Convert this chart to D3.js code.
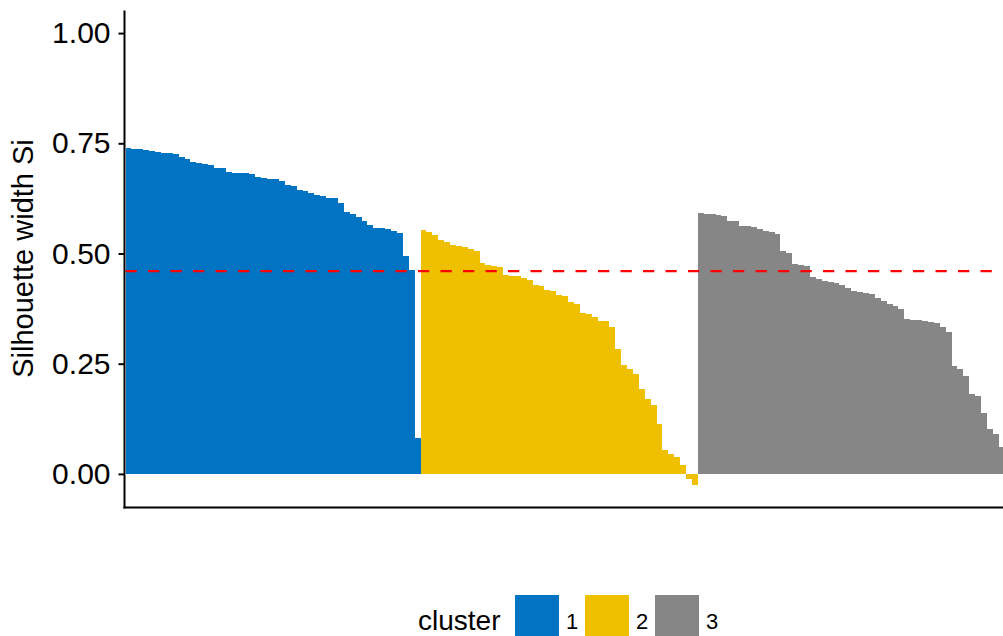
<!DOCTYPE html>
<html>
<head>
<meta charset="utf-8">
<script src="https://cdn.jsdelivr.net/npm/d3@7"></script>
<style>
  html, body { margin: 0; padding: 0; background: #fff; }
  svg { display: block; font-family: "Liberation Sans", Arimo, Arial, Helvetica, sans-serif; }
</style>
</head>
<body>
<svg id="chart" width="1003" height="636"></svg>
<script>
// ---- data (silhouette widths, sorted within each cluster) ----
const clusterLabels = ["1", "2", "3"];
const clusterColors = ["#0073C2", "#EFC000", "#868686"];
const cluster1Sil = [0.739,0.738,0.736,0.734,0.733,0.730,0.729,0.727,0.726,0.720,
  0.715,0.708,0.706,0.704,0.701,0.695,0.694,0.684,0.683,0.683,
  0.682,0.681,0.673,0.671,0.670,0.668,0.665,0.655,0.654,0.643,
  0.642,0.637,0.633,0.630,0.626,0.625,0.615,0.594,0.590,0.583,
  0.573,0.565,0.558,0.557,0.555,0.550,0.547,0.494,0.463,0.082];
const cluster2Sil = [0.553,0.548,0.543,0.531,0.526,0.519,0.516,0.514,0.510,0.506,
  0.478,0.475,0.472,0.469,0.451,0.450,0.448,0.444,0.440,0.429,
  0.427,0.417,0.414,0.405,0.404,0.391,0.385,0.364,0.362,0.355,
  0.347,0.346,0.334,0.283,0.247,0.237,0.226,0.193,0.171,0.156,
  0.113,0.055,0.045,0.039,0.020,-0.012,-0.025];
const cluster3Sil = [0.592,0.590,0.589,0.587,0.585,0.574,0.573,0.563,0.562,0.559,
  0.555,0.550,0.549,0.544,0.506,0.500,0.476,0.475,0.472,0.446,
  0.443,0.438,0.435,0.432,0.428,0.421,0.416,0.413,0.410,0.408,
  0.398,0.393,0.386,0.381,0.373,0.351,0.349,0.348,0.347,0.345,
  0.343,0.334,0.323,0.245,0.237,0.222,0.181,0.177,0.138,0.101,
  0.091,0.062,0.040];
const avgSilWidth = 0.46;
const yTicks = [0, 0.25, 0.5, 0.75, 1];
const yTitle = "Silhouette width Si";
const legendTitle = "cluster";

// ---- build rows ----
const rows = [];
[cluster1Sil, cluster2Sil, cluster3Sil].forEach((arr, ci) => {
  arr.forEach((v, i) => rows.push({ id: `c${ci}_${i}`, cluster: clusterLabels[ci], value: v }));
});

const svg = d3.select("#chart");
const unit = 5.9;
const x0 = 125.5;
const panelTop = 10.5, panelBottom = 507.5;

const x = d3.scaleBand()
  .domain(rows.map(d => d.id))
  .range([x0, x0 + rows.length * unit])
  .padding(0);

const yMin = Math.min(0, d3.min(rows, d => d.value));
const yMax = 1;
const pad = (yMax - yMin) * 0.05;
const y = d3.scaleLinear().domain([yMin - pad, yMax + pad]).range([panelBottom, panelTop]);

const color = d3.scaleOrdinal().domain(clusterLabels).range(clusterColors);

// bars
svg.append("g")
  .selectAll("rect")
  .data(rows)
  .join("rect")
  .attr("x", d => x(d.id))
  .attr("width", x.bandwidth())
  .attr("y", d => y(Math.max(0, d.value)))
  .attr("height", d => Math.abs(y(d.value) - y(0)))
  .attr("fill", d => color(d.cluster))
  .attr("shape-rendering", "crispEdges");

// average line
svg.append("line")
  .attr("x1", x0).attr("x2", 1010)
  .attr("y1", y(avgSilWidth)).attr("y2", y(avgSilWidth))
  .attr("stroke", "#FF0000")
  .attr("stroke-width", 2.2)
  .attr("stroke-dasharray", "11.25,11.25");

// y axis
const yAxis = d3.axisLeft(y).tickValues(yTicks).tickFormat(d3.format(".2f")).tickSize(6).tickPadding(8);
const gy = svg.append("g").attr("transform", `translate(124.5,0)`).call(yAxis);
gy.select(".domain").remove();
gy.append("line").attr("x1", 0).attr("x2", 0).attr("y1", panelTop).attr("y2", panelBottom + 1)
  .attr("stroke", "#000").attr("stroke-width", 2);
gy.selectAll(".tick line").attr("stroke", "#000").attr("stroke-width", 2);
gy.selectAll(".tick text").attr("fill", "#000").style("font-size", "30px")
  .attr("font-family", "'Liberation Sans', Arimo, Arial, sans-serif");

// x axis line (no ticks/labels)
svg.append("line")
  .attr("x1", 123.5).attr("x2", 1010)
  .attr("y1", panelBottom).attr("y2", panelBottom)
  .attr("stroke", "#000").attr("stroke-width", 2);

// y title
svg.append("text")
  .attr("transform", `translate(33,258.5) rotate(-90)`)
  .attr("text-anchor", "middle")
  .style("font-size", "29px")
  .attr("fill", "#000")
  .text(yTitle);

// legend
const lg = svg.append("g");
lg.append("text").attr("x", 418).attr("y", 630).style("font-size", "28px").attr("fill", "#000").text(legendTitle);
const keyX = [515, 585, 655];
clusterLabels.forEach((c, i) => {
  lg.append("rect").attr("x", keyX[i]).attr("y", 595).attr("width", 44).attr("height", 44)
    .attr("fill", color(c));
  lg.append("text").attr("x", keyX[i] + 51).attr("y", 628.5).style("font-size", "22px")
    .attr("fill", "#000").text(c);
});
</script>
</body>
</html>
